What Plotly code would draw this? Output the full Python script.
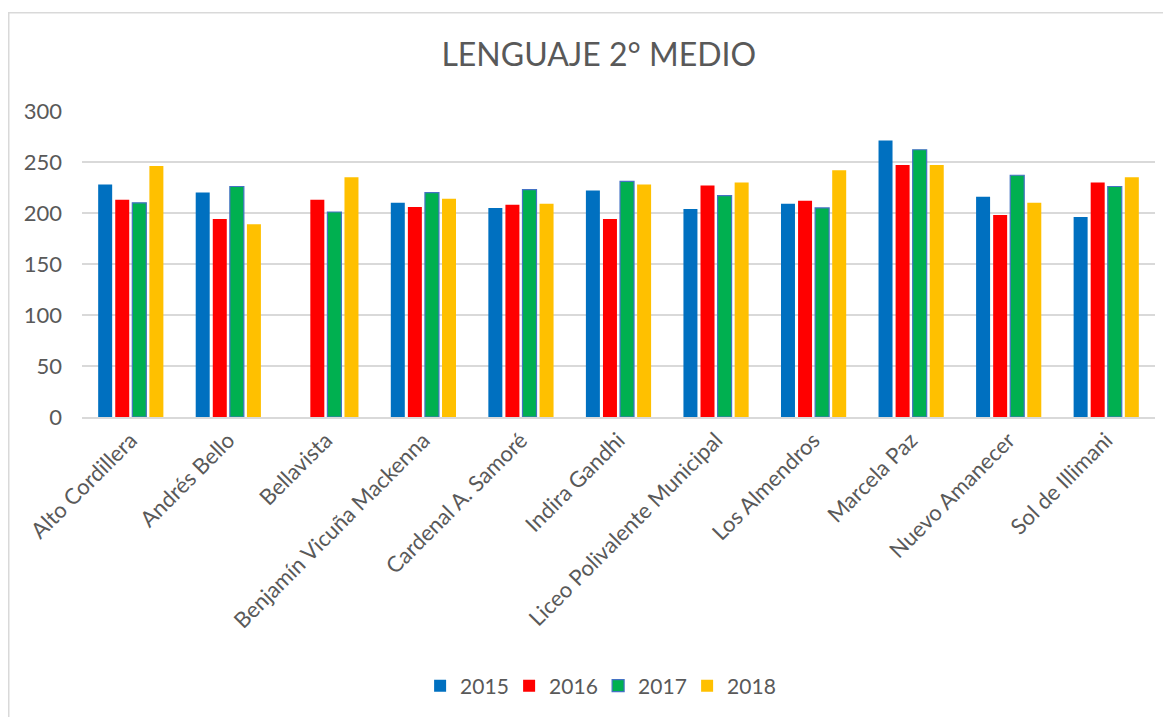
import plotly.graph_objects as go

schools = ["Alto Cordillera", "Andrés Bello", "Bellavista", "Benjamín Vicuña Mackenna",
           "Cardenal A. Samoré", "Indira Gandhi", "Liceo Polivalente Municipal",
           "Los Almendros", "Marcela Paz", "Nuevo Amanecer", "Sol de Illimani"]
y2015 = [228, 220, None, 210, 205, 222, 204, 209, 271, 216, 196]
y2016 = [213, 194, 213, 206, 208, 194, 227, 212, 247, 198, 230]
y2017 = [210, 226, 201, 220, 223, 231, 217, 205, 262, 237, 226]
y2018 = [246, 189, 235, 214, 209, 228, 230, 242, 247, 210, 235]
years = ["2015", "2016", "2017", "2018"]
colors = ["#0070C0", "#FF0000", "#00B050", "#FFC000"]
lines = ["#0070C0", "#FF0000", "#4472C4", "#FFC000"]

FONT = "Lato"
fig = go.Figure()
for name, vals, c, lc in zip(years, [y2015, y2016, y2017, y2018], colors, lines):
    fig.add_trace(go.Bar(x=schools, y=vals, name=name,
                         marker=dict(color=c, line=dict(color=lc, width=1.2 if name == "2017" else 0))))

fig.update_layout(
    width=1163, height=709,
    paper_bgcolor="white", plot_bgcolor="white",
    margin=dict(l=74, r=16, t=103, b=299),
    barmode="group", bargap=0.30, bargroupgap=0.18,
    title=dict(text="LENGUAJE 2° MEDIO", x=0.508, xanchor="center", y=1 - 47 / 709, yanchor="middle",
               font=dict(family=FONT, size=32, color="#595959")),
    font=dict(family=FONT, color="#595959"),
    legend=dict(orientation="h", x=0.481, xanchor="center", y=-0.873, yanchor="middle",
                font=dict(family=FONT, size=21, color="#595959"), itemwidth=30,
                entrywidth=44, entrywidthmode="pixels", traceorder="normal"),
    xaxis=dict(tickangle=-45, tickfont=dict(family=FONT, size=22, color="#595959"),
               showline=True, linecolor="#D9D9D9", linewidth=1.5, ticks=""),
    yaxis=dict(range=[0, 300], dtick=50, tickfont=dict(family=FONT, size=22, color="#595959"),
               showgrid=True, gridcolor="#D9D9D9", gridwidth=1.5, zeroline=False, ticks="",
               ticklen=0, showline=False, ticklabelstandoff=19),
    shapes=[dict(type="rect", xref="paper", yref="paper",
                 x0=(0.75 - 74) / 1073, x1=(1185 - 82) / 1073,
                 y0=(418 - 740) / 307, y1=(418 - 12.5) / 307,
                 line=dict(color="#D9D9D9", width=1.5), fillcolor="rgba(0,0,0,0)", layer="below")],
)
fig.write_html("out.html")
